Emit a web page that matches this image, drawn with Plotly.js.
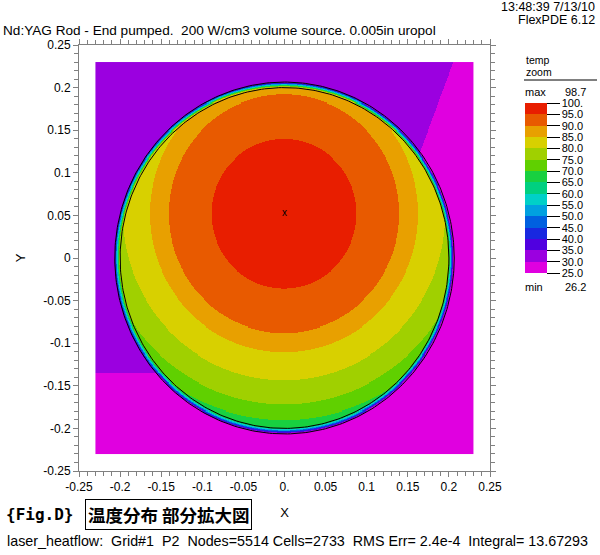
<!DOCTYPE html>
<html><head><meta charset="utf-8">
<script src="https://cdn.plot.ly/plotly-3.0.1.min.js"></script>
<style>body{margin:0;background:#fff}#chart{width:600px;height:555px}</style>
</head><body><div id="chart"></div>
<script>
// ---- legend bands ----
const bandEdges = [25,30,35,40,45,50,55,60,65,70,75,80,85,90,95,100];
const bandLabels = ['25.0','30.0','35.0','40.0','45.0','50.0','55.0','60.0','65.0','70.0','75.0','80.0','85.0','90.0','95.0','100.'];
const bandColors = ['#E000E0','#9B00E0','#5000E0','#1828E0','#0060E0','#00A0E0','#00D0C8','#00D080','#18D040','#60D000','#A0D000','#D8D000','#E8A000','#E85A00','#E81E00'];
const tempMax = 98.7, tempMin = 26.2;

// ---- temperature field inside the rod ----
// contour level vs distance from the hot spot
const hotSpot = [0, 0.052];
const contourLevels = [98.7, 95, 90, 85, 80, 75, 70, 65, 60];
const contourDist   = [0.0, 0.088, 0.140, 0.163, 0.196, 0.224, 0.242, 0.256, 0.275];
// geometry
const rodRadius = 0.200;
const coatRadius = 0.2065;
const fieldHalf = 0.23;
// outside region temperatures and their dividing lines
const outsideUpper = 32.5;   // purple region
const outsideLower = 27.5;   // magenta region
const lowerDivideY = -0.135;
const slantTop = [0.206, 0.23];
const slantLow = [0.177, 0.154];

const xTicks = [-0.25,-0.2,-0.15,-0.1,-0.05,0,0.05,0.1,0.15,0.2,0.25];
const xTickText = ['-0.25','-0.2','-0.15','-0.1','-0.05','0.','0.05','0.1','0.15','0.2','0.25'];
const yTickText = ['-0.25','-0.2','-0.15','-0.1','-0.05','0','0.05','0.1','0.15','0.2','0.25'];

function tempAtDist(d){
  for(let k=0;k<contourDist.length-1;k++){
    if(d<=contourDist[k+1]){
      const t=(d-contourDist[k])/(contourDist[k+1]-contourDist[k]);
      return contourLevels[k]+t*(contourLevels[k+1]-contourLevels[k]);
    }
  }
  return contourLevels[contourLevels.length-1];
}
function outsideTemp(x,y){
  if(y<lowerDivideY) return outsideLower;
  const slope=(slantTop[0]-slantLow[0])/(slantTop[1]-slantLow[1]);
  const lx=slantTop[0]+(y-slantTop[1])*slope;
  return x>lx?outsideLower:outsideUpper;
}
const N=378, step=2*fieldHalf/N;
const gx=[],gy=[],gz=[];
for(let i=0;i<N;i++){gx.push(-fieldHalf+step*(i+0.5));}
for(let j=0;j<N;j++){gy.push(-fieldHalf+step*(j+0.5));}
for(let j=0;j<N;j++){
  const row=[];const y=gy[j];
  for(let i=0;i<N;i++){
    const x=gx[i];const r=Math.hypot(x,y);
    let T;
    if(r<=rodRadius){T=tempAtDist(Math.hypot(x-hotSpot[0],y-hotSpot[1]));}
    else{
      const To=outsideTemp(x,y);
      if(r>=coatRadius){T=To;}
      else{
        const ex=x*rodRadius/r, ey=y*rodRadius/r;
        const Ti=tempAtDist(Math.hypot(ex-hotSpot[0],ey-hotSpot[1]));
        const f=(r-rodRadius)/(coatRadius-rodRadius);
        T=Ti+(To-Ti)*f;
      }
    }
    row.push(T);
  }
  gz.push(row);
}
const cs=[];
bandColors.forEach((c,k)=>{cs.push([k/15,c]);cs.push([(k+1)/15,c]);});

function circle(R){const xs=[],ys=[];for(let a=0;a<=360;a+=1){xs.push(R*Math.cos(a*Math.PI/180));ys.push(R*Math.sin(a*Math.PI/180));}return {xs,ys};}
const c1=circle(rodRadius), c2=circle(coatRadius);

const W=600,H=555,L=79,R=490,T=45,B=471;
const px=v=>(v-L)/(R-L), py=v=>(B-v)/(B-T);
const FONT='Liberation Sans, Arial, sans-serif';

const traces=[
 {type:'heatmap',x:gx,y:gy,z:gz,zmin:25,zmax:100,zsmooth:false,colorscale:cs,hoverinfo:'skip',
  colorbar:{xref:'paper',yref:'paper',x:px(525),xanchor:'left',y:py(103),yanchor:'top',
   len:170,lenmode:'pixels',thickness:22,thicknessmode:'pixels',outlinewidth:0,xpad:0,ypad:0,
   tickmode:'array',tickvals:bandEdges,ticktext:bandLabels,ticks:'outside',ticklen:13,tickwidth:1,tickcolor:'#000',
   tickfont:{family:FONT,size:11,color:'#000'}}},
 {type:'scatter',mode:'lines',x:c1.xs,y:c1.ys,line:{color:'#000',width:1},hoverinfo:'skip',showlegend:false},
 {type:'scatter',mode:'lines',x:c2.xs,y:c2.ys,line:{color:'#000',width:1},hoverinfo:'skip',showlegend:false},
 {type:'scatter',mode:'text',x:[hotSpot[0]],y:[hotSpot[1]],text:['x'],textfont:{family:FONT,size:10,color:'#000'},hoverinfo:'skip',showlegend:false}
];
const axCommon={showgrid:false,zeroline:false,showline:true,linecolor:'#808080',linewidth:1,mirror:'ticks',
 ticks:'outside',ticklen:5,tickcolor:'#808080',tickwidth:1,tickfont:{family:FONT,size:12,color:'#000'},
 minor:{dtick:0.01,ticks:'outside',ticklen:4,tickcolor:'#808080',tickwidth:1,showgrid:false},
 tickmode:'array',tickvals:xTicks,range:[-0.25,0.25],fixedrange:true};
const ann=(x,y,text,o)=>Object.assign({xref:'paper',yref:'paper',x:px(x),y:py(y),text,showarrow:false,
  font:{family:FONT,size:11,color:'#000'},xanchor:'left',yanchor:'middle'},o||{});
const layout={width:W,height:H,margin:{l:L,r:W-R,t:T,b:H-B},paper_bgcolor:'#fff',plot_bgcolor:'#fff',
 showlegend:false,
 title:{text:'Nd:YAG Rod - End pumped.  200 W/cm3 volume source. 0.005in uropol',xref:'container',yref:'container',
   x:3/W,xanchor:'left',y:1-30/H,yanchor:'middle',font:{family:FONT,size:13.6,color:'#000'}},
 xaxis:Object.assign({},axCommon,{ticktext:xTickText,title:{text:'X',font:{family:FONT,size:13,color:'#000'},standoff:14}}),
 yaxis:Object.assign({},axCommon,{ticktext:yTickText,title:{text:'Y',font:{family:FONT,size:13,color:'#000'},standoff:14}}),
 annotations:[
  ann(597,7,'13:48:39 7/13/10',{xanchor:'right',font:{family:FONT,size:12.5,color:'#000'}}),
  ann(597,20,'FlexPDE 6.12',{xanchor:'right',font:{family:FONT,size:12.5,color:'#000'}}),
  ann(524,60,'temp',{font:{family:FONT,size:10.5,color:'#000'}}),
  ann(524,72,'zoom',{font:{family:FONT,size:10.5,color:'#000'}}),
  ann(523,92,'max'),ann(563,92,String(tempMax)),
  ann(523,287,'min'),ann(563,287,String(tempMin)),
  ann(4,514,'<b>{Fig.D}</b>',{font:{family:'DejaVu Sans Mono, monospace',size:16,color:'#000'}}),
  ann(168,514,'<b>温度分布 部分拡大図</b>',{xanchor:'center',font:{family:'Noto Sans CJK JP',size:17.5,color:'#000'},bordercolor:'#000',borderwidth:1,borderpad:2}),
  ann(5,541,'laser_heatflow:  Grid#1  P2  Nodes=5514 Cells=2733  RMS Err= 2.4e-4  Integral= 13.67293',{font:{family:FONT,size:14.3,color:'#000'}})
 ],
 shapes:[{type:'line',xref:'paper',yref:'paper',x0:px(524),x1:px(597),y0:py(80),y1:py(80),line:{color:'#000',width:1}}]
};
Plotly.newPlot('chart',traces,layout,{displayModeBar:false,staticPlot:true});
</script></body></html>
